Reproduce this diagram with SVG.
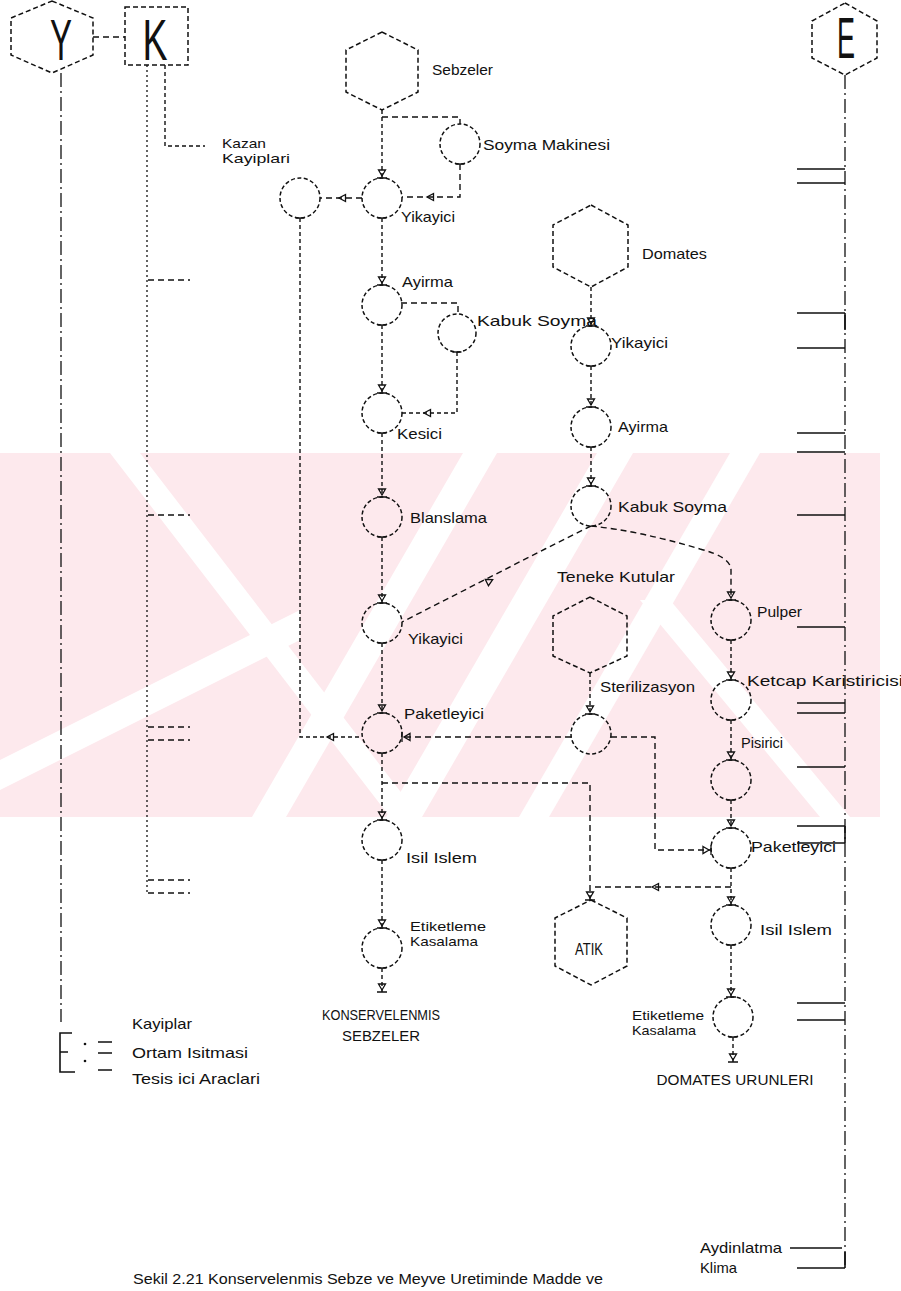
<svg xmlns="http://www.w3.org/2000/svg" width="901" height="1291" viewBox="0 0 901 1291">
<style>
.t{font-family:'Liberation Sans',Arial,sans-serif;font-size:15px;fill:#111}
.t2{font-family:'Liberation Sans',Arial,sans-serif;font-size:13px;fill:#111}
.big{font-family:'Liberation Sans',Arial,sans-serif;font-size:58px;fill:#111}
.c{fill:none;stroke:#111;stroke-width:1.5;stroke-dasharray:4 2.5}
.h{fill:none;stroke:#111;stroke-width:1.5;stroke-dasharray:5 3}
.l{fill:none;stroke:#111;stroke-width:1.4;stroke-dasharray:6 4}
.v{fill:none;stroke:#111;stroke-width:1.4;stroke-dasharray:4 3}
.dd{fill:none;stroke:#111;stroke-width:1.3;stroke-dasharray:14 4 2 4}
.k{fill:none;stroke:#111;stroke-width:1.3;stroke-dasharray:2 3}
.s{fill:none;stroke:#111;stroke-width:1.6}
.tri{fill:none;stroke:#111;stroke-width:1.3}
.wm{fill:#fde9ed}
.wg{fill:#ffffff}
</style>
<defs>
<marker id="ah" viewBox="0 0 12 12" refX="11" refY="6" markerWidth="12" markerHeight="12" markerUnits="userSpaceOnUse" orient="auto">
<path d="M3,2.5 L9,6 L3,9.5 Z M11,1 L11,11" fill="none" stroke="#111" stroke-width="1.3"/>
</marker>
<marker id="tb" viewBox="0 0 12 12" refX="1" refY="6" markerWidth="12" markerHeight="12" markerUnits="userSpaceOnUse" orient="auto">
<path d="M1,1.5 L1,10.5" fill="none" stroke="#111" stroke-width="1.4"/>
</marker>
<path id="tr" d="M-3.5,-3.5 L3,0 L-3.5,3.5 Z"/>
<clipPath id="wmclip"><rect x="0" y="453" width="901" height="364"/></clipPath>
</defs>

<g id="watermark" clip-path="url(#wmclip)">
<rect class="wm" x="0" y="453" width="880" height="364"/>
<polygon class="wg" points="463,453 497,453 286,817 252,817"/>
<polygon class="wg" points="597,453 633,453 422,817 386,817"/>
<polygon class="wg" points="730,453 760,453 549,817 519,817"/>
<polygon class="wg" points="110,453 140,453 420,817 390,817"/>
<polygon class="wg" points="640,600 670,600 850,817 820,817"/>
<polygon class="wg" points="0,760 0,790 300,640 300,610"/>
</g>

<g id="node-Y"><polygon class="h" points="52,1 93,18 93,55 52,73 11,55 11,18"/><text class="big" x="61" y="60" text-anchor="middle" textLength="22" lengthAdjust="spacingAndGlyphs">Y</text></g>
<g id="node-K"><rect class="h" x="125" y="7" width="63" height="58"/><text class="big" x="155" y="60" text-anchor="middle" textLength="25" lengthAdjust="spacingAndGlyphs">K</text></g>
<g id="node-E"><polygon class="h" points="845,3 877,21 877,58 845,75 812,58 812,21"/><text class="big" x="846" y="58" text-anchor="middle" textLength="18" lengthAdjust="spacingAndGlyphs">E</text></g>

<g id="node-sebzeler"><polygon class="h" points="382,32 418,50 418,92 382,110 346,92 346,50"/><text class="t" x="432" y="75" textLength="61" lengthAdjust="spacingAndGlyphs">Sebzeler</text></g>
<g id="node-soyma-makinesi"><circle class="c" cx="460" cy="144" r="20"/><text class="t" x="483" y="150" textLength="127" lengthAdjust="spacingAndGlyphs">Soyma  Makinesi</text></g>
<g id="node-kazan"><text class="t2" x="222" y="148" textLength="44" lengthAdjust="spacingAndGlyphs">Kazan</text><text class="t2" x="222" y="163" textLength="68" lengthAdjust="spacingAndGlyphs">Kayiplari</text></g>
<g id="node-kayip-circle"><circle class="c" cx="300" cy="198" r="20"/></g>
<g id="node-yikayici1"><circle class="c" cx="382" cy="198" r="20"/><text class="t" x="401" y="222" textLength="54" lengthAdjust="spacingAndGlyphs">Yikayici</text></g>
<g id="node-ayirma1"><circle class="c" cx="382" cy="305" r="20"/><text class="t" x="402" y="287" textLength="51" lengthAdjust="spacingAndGlyphs">Ayirma</text></g>
<g id="node-kabuk1"><circle class="c" cx="457" cy="333" r="19"/><text class="t" x="477" y="326" textLength="120" lengthAdjust="spacingAndGlyphs">Kabuk  Soyma</text></g>
<g id="node-kesici"><circle class="c" cx="382" cy="413" r="20"/><text class="t" x="397" y="439" textLength="45" lengthAdjust="spacingAndGlyphs">Kesici</text></g>
<g id="node-blanslama"><circle class="c" cx="382" cy="517" r="20"/><text class="t" x="410" y="523" textLength="77" lengthAdjust="spacingAndGlyphs">Blanslama</text></g>
<g id="node-yikayici2"><circle class="c" cx="382" cy="623" r="20"/><text class="t" x="408" y="644" textLength="55" lengthAdjust="spacingAndGlyphs">Yikayici</text></g>
<g id="node-paketleyici1"><circle class="c" cx="382" cy="733" r="20"/><text class="t" x="404" y="719" textLength="80" lengthAdjust="spacingAndGlyphs">Paketleyici</text></g>
<g id="node-isil1"><circle class="c" cx="382" cy="840" r="20"/><text class="t" x="406" y="863" textLength="71" lengthAdjust="spacingAndGlyphs">Isil  Islem</text></g>
<g id="node-etiket1"><circle class="c" cx="382" cy="948" r="20"/><text class="t2" x="410" y="931" textLength="76" lengthAdjust="spacingAndGlyphs">Etiketleme</text><text class="t2" x="410" y="946" textLength="68" lengthAdjust="spacingAndGlyphs">Kasalama</text></g>
<g id="node-konserve"><text class="t" x="381" y="1020" text-anchor="middle" textLength="118" lengthAdjust="spacingAndGlyphs">KONSERVELENMIS</text><text class="t" x="381" y="1041" text-anchor="middle" textLength="78" lengthAdjust="spacingAndGlyphs">SEBZELER</text></g>

<g id="node-domates"><polygon class="h" points="591,205 628,225 628,267 591,287 553,267 553,225"/><text class="t" x="642" y="259" textLength="65" lengthAdjust="spacingAndGlyphs">Domates</text></g>
<g id="node-yikayici3"><circle class="c" cx="591" cy="346" r="20"/><text class="t" x="611" y="348" textLength="57" lengthAdjust="spacingAndGlyphs">Yikayici</text></g>
<g id="node-ayirma2"><circle class="c" cx="591" cy="427" r="20"/><text class="t" x="618" y="432" textLength="50" lengthAdjust="spacingAndGlyphs">Ayirma</text></g>
<g id="node-kabuk2"><circle class="c" cx="591" cy="506" r="20"/><text class="t" x="618" y="512" textLength="109" lengthAdjust="spacingAndGlyphs">Kabuk  Soyma</text></g>
<g id="node-teneke"><polygon class="h" points="590,597 627,616 627,656 590,673 553,656 553,616"/><text class="t" x="557" y="582" textLength="118" lengthAdjust="spacingAndGlyphs">Teneke  Kutular</text></g>
<g id="node-steril"><circle class="c" cx="591" cy="734" r="20"/><text class="t" x="600" y="692" textLength="95" lengthAdjust="spacingAndGlyphs">Sterilizasyon</text></g>
<g id="node-atik"><polygon class="h" points="591,900 627,918 627,966 591,985 555,966 555,918"/><text class="t" x="589" y="955" text-anchor="middle" style="font-size:17px" textLength="28" lengthAdjust="spacingAndGlyphs">ATIK</text></g>

<g id="node-pulper"><circle class="c" cx="731" cy="620" r="20"/><text class="t" x="757" y="617" textLength="45" lengthAdjust="spacingAndGlyphs">Pulper</text></g>
<g id="node-ketcap"><circle class="c" cx="731" cy="700" r="20"/><text class="t" x="747" y="686" textLength="156" lengthAdjust="spacingAndGlyphs">Ketcap  Karistiricisi</text></g>
<g id="node-pisirici"><circle class="c" cx="731" cy="780" r="20"/><text class="t" x="741" y="748" textLength="42" lengthAdjust="spacingAndGlyphs">Pisirici</text></g>
<g id="node-paketleyici2"><circle class="c" cx="731" cy="848" r="20"/><text class="t" x="751" y="852" textLength="85" lengthAdjust="spacingAndGlyphs">Paketleyici</text></g>
<g id="node-isil2"><circle class="c" cx="731" cy="925" r="20"/><text class="t" x="760" y="935" textLength="72" lengthAdjust="spacingAndGlyphs">Isil  Islem</text></g>
<g id="node-etiket2"><circle class="c" cx="733" cy="1017" r="20"/><text class="t2" x="632" y="1020" textLength="72" lengthAdjust="spacingAndGlyphs">Etiketleme</text><text class="t2" x="632" y="1035" textLength="64" lengthAdjust="spacingAndGlyphs">Kasalama</text></g>
<g id="node-domates-urun"><text class="t" x="735" y="1085" text-anchor="middle" textLength="157" lengthAdjust="spacingAndGlyphs">DOMATES  URUNLERI</text></g>

<g id="node-legend">
<path class="s" d="M72,1033 H60 V1072 H75 M60,1052 H68"/>
<circle cx="85" cy="1044" r="1.3" fill="#111"/><circle cx="85" cy="1061" r="1.3" fill="#111"/>
<path class="s" d="M98,1042 H112 M98,1053 H112 M98,1070 H112"/>
<text class="t" x="132" y="1029" textLength="60" lengthAdjust="spacingAndGlyphs">Kayiplar</text>
<text class="t" x="132" y="1058" textLength="116" lengthAdjust="spacingAndGlyphs">Ortam  Isitmasi</text>
<text class="t" x="132" y="1084" textLength="128" lengthAdjust="spacingAndGlyphs">Tesis  ici  Araclari</text>
</g>
<g id="node-utilities">
<text class="t" x="700" y="1253" textLength="82" lengthAdjust="spacingAndGlyphs">Aydinlatma</text>
<text class="t" x="700" y="1273" textLength="37" lengthAdjust="spacingAndGlyphs">Klima</text>
</g>
<g id="caption"><text class="t" x="133" y="1284" textLength="470" lengthAdjust="spacingAndGlyphs">Sekil 2.21 Konservelenmis Sebze ve Meyve Uretiminde Madde ve</text></g>

<g id="connectors">
<path class="l" d="M93,37 H125"/>
<path class="dd" d="M61,73 V1022"/>
<path class="k" d="M147,65 V895"/>
<path class="v" d="M165,65 V146 H205"/>
<path class="l" d="M148,280 H190 M148,515 H190 M148,727 H190 M148,740 H190 M148,880 H190 M148,893 H190"/>
<path class="dd" d="M845,75 V1268"/>
<path class="s" d="M797,169 H845 M797,183 H845 M797,313 H845 M797,348 H845 M797,433 H845 M797,452 H845 M797,515 H845 M797,627 H845 M797,703 H845 M797,713 H845 M797,767 H845 M797,826 H845 M797,843 H845 M797,1003 H845 M797,1020 H845 M790,1248 H842 M797,1268 H845"/>
<path class="s" d="M845,313 V330 M845,826 V843 M845,1252 V1268"/>

<path class="v" d="M382,110 V178" marker-end="url(#ah)"/>
<path class="l" d="M382,117 H460 V124"/>
<path class="l" d="M460,164 V197 H402" marker-start="url(#tb)"/>
<use href="#tr" class="tri" transform="translate(430,197) rotate(180)"/>
<path class="l" d="M362,198 H320"/>
<use href="#tr" class="tri" transform="translate(342,198) rotate(180)"/>
<path class="v" d="M300,218 V737 H362" marker-start="url(#tb)"/>
<use href="#tr" class="tri" transform="translate(330,737) rotate(180)"/>
<path class="v" d="M382,218 V285" marker-start="url(#tb)" marker-end="url(#ah)"/>
<path class="l" d="M401,303 H458 V314"/>
<path class="v" d="M457,352 V413 H401" marker-start="url(#tb)"/>
<use href="#tr" class="tri" transform="translate(427,413) rotate(180)"/>
<path class="v" d="M382,325 V393" marker-start="url(#tb)" marker-end="url(#ah)"/>
<path class="v" d="M382,433 V497" marker-start="url(#tb)" marker-end="url(#ah)"/>
<path class="v" d="M382,537 V603" marker-start="url(#tb)" marker-end="url(#ah)"/>
<path class="v" d="M382,643 V713" marker-start="url(#tb)" marker-end="url(#ah)"/>
<path class="v" d="M382,753 V820" marker-start="url(#tb)" marker-end="url(#ah)"/>
<path class="l" d="M382,783 H590 V900" marker-end="url(#ah)"/>
<path class="v" d="M382,860 V928" marker-start="url(#tb)" marker-end="url(#ah)"/>
<path class="v" d="M382,968 V992" marker-start="url(#tb)" marker-end="url(#ah)"/>

<path class="v" d="M591,287 V326" marker-end="url(#ah)"/>
<path class="v" d="M591,366 V407" marker-start="url(#tb)" marker-end="url(#ah)"/>
<path class="v" d="M591,447 V486" marker-start="url(#tb)" marker-end="url(#ah)"/>
<path class="l" d="M591,526 L545,549 L402,622"/>
<use href="#tr" class="tri" transform="translate(490,581) rotate(-27)"/>
<path class="l" d="M591,526 Q640,531 700,549 Q731,557 731,570 V600" marker-end="url(#ah)"/>
<path class="v" d="M590,673 V714" marker-end="url(#ah)"/>
<path class="l" d="M571,737 H402" marker-end="url(#ah)"/>
<path class="l" d="M611,737 H655 V850 H711" marker-end="url(#ah)"/>
<path class="v" d="M731,640 V680" marker-start="url(#tb)" marker-end="url(#ah)"/>
<path class="v" d="M731,720 V760" marker-start="url(#tb)" marker-end="url(#ah)"/>
<path class="v" d="M731,800 V828" marker-start="url(#tb)" marker-end="url(#ah)"/>
<path class="v" d="M731,868 V905" marker-start="url(#tb)" marker-end="url(#ah)"/>
<path class="l" d="M731,887 H592"/>
<use href="#tr" class="tri" transform="translate(655,887) rotate(180)"/>
<path class="v" d="M731,945 V997" marker-start="url(#tb)" marker-end="url(#ah)"/>
<path class="v" d="M733,1037 V1062" marker-start="url(#tb)" marker-end="url(#ah)"/>
</g>
</svg>
